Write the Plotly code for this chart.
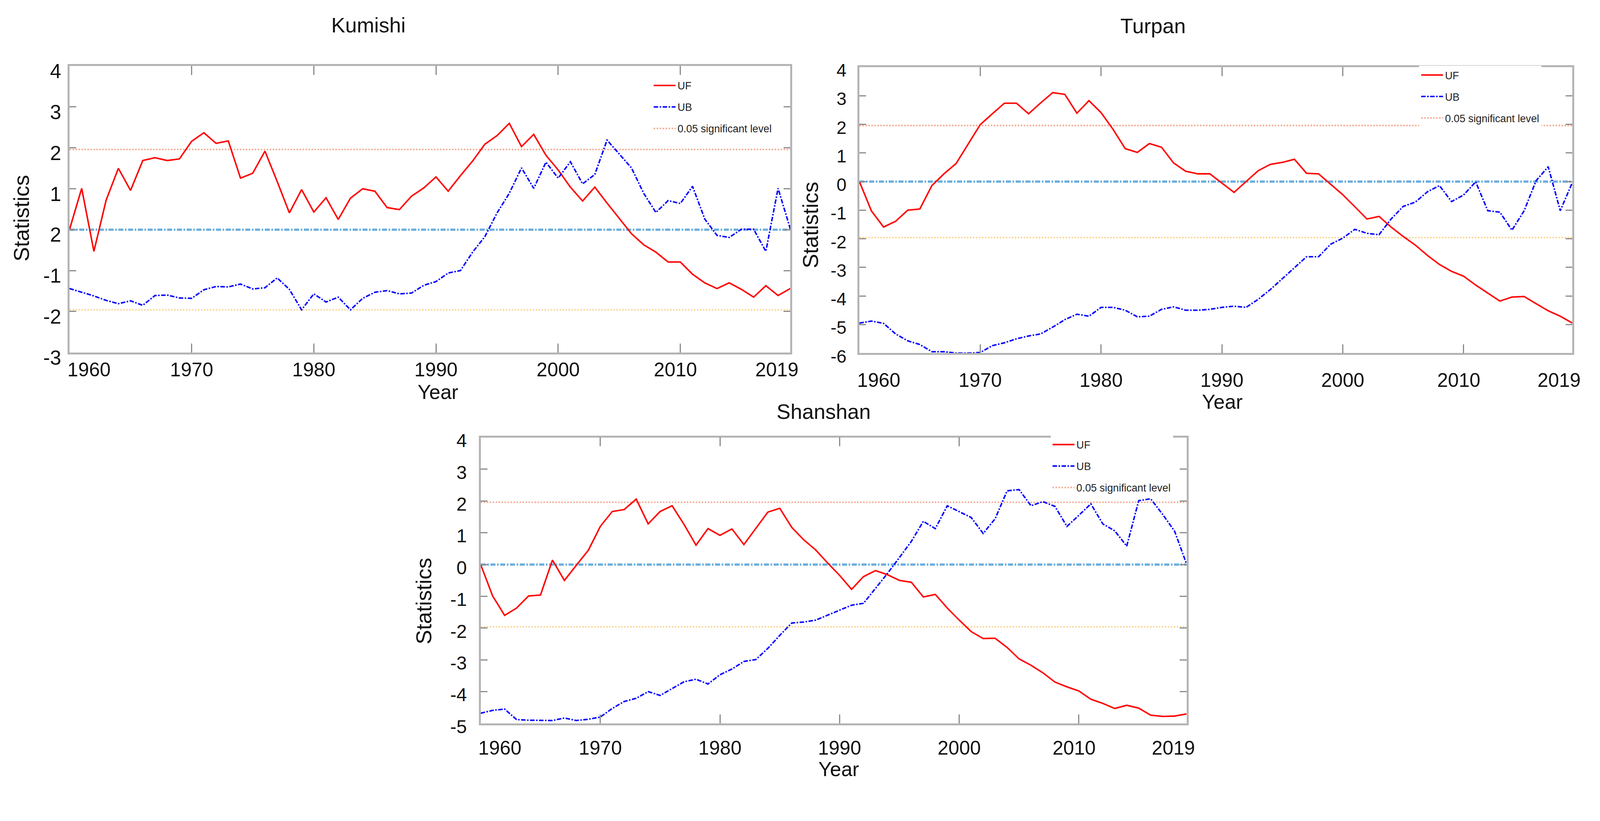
import plotly.graph_objects as go

# target picture size in px
W, H = 4284, 2103
# the page is shown magnified (about 4096 css px fill the 4284 px picture)
# and the body has an 8 px margin, so sizes and spots are scaled back here
S = 4096 / W
BODY = 8
FW, FH = round(W * S) - BODY, round(H * S) - BODY


def px(v):
    return v * S


def fx(v):
    return (v * S - BODY) / FW


def fy(v):
    return 1 - (v * S - BODY) / FH


YEARS = list(range(1960, 2020))
X_TICKS = [1970, 1980, 1990, 2000, 2010]
X_LABEL_POS = [1961.6, 1970, 1980, 1990, 2000, 2009.6, 2017.9]
X_LABEL_TEXT = ["1960", "1970", "1980", "1990", "2000", "2010", "2019"]
SIG = 1.96

KUMISHI_UF = [0.00, 1.01, -0.53, 0.72, 1.50, 0.96, 1.69, 1.76, 1.69, 1.73,
              2.16, 2.37, 2.11, 2.17, 1.26, 1.38, 1.92, 1.18, 0.41, 0.98,
              0.43, 0.78, 0.25, 0.77, 1.00, 0.94, 0.54, 0.49, 0.82, 1.02,
              1.29, 0.94, 1.32, 1.68, 2.09, 2.30, 2.60, 2.03, 2.33, 1.82,
              1.46, 1.04, 0.70, 1.04, 0.65, 0.27, -0.10, -0.37, -0.55, -0.79,
              -0.79, -1.09, -1.30, -1.44, -1.30, -1.46, -1.65, -1.37, -1.61, -1.44]
KUMISHI_UB = [-1.44, -1.53, -1.62, -1.73, -1.81, -1.74, -1.85, -1.61, -1.60, -1.67,
              -1.68, -1.47, -1.39, -1.40, -1.33, -1.45, -1.42, -1.18, -1.46, -1.96,
              -1.57, -1.77, -1.65, -1.96, -1.68, -1.53, -1.49, -1.57, -1.55, -1.36,
              -1.27, -1.06, -1.00, -0.55, -0.17, 0.41, 0.89, 1.51, 1.01, 1.65,
              1.26, 1.66, 1.12, 1.35, 2.19, 1.85, 1.51, 0.89, 0.42, 0.71,
              0.64, 1.06, 0.26, -0.14, -0.19, 0.01, 0.01, -0.53, 1.01, 0.02]

TURPAN_UF = [0.00, -1.03, -1.59, -1.39, -1.00, -0.96, -0.14, 0.27, 0.63, 1.31,
             1.99, 2.37, 2.74, 2.74, 2.37, 2.75, 3.11, 3.05, 2.39, 2.83,
             2.41, 1.82, 1.15, 1.02, 1.33, 1.20, 0.65, 0.36, 0.27, 0.27,
             -0.05, -0.38, 0.00, 0.38, 0.60, 0.67, 0.78, 0.29, 0.27, -0.10,
             -0.46, -0.88, -1.31, -1.22, -1.59, -1.92, -2.22, -2.58, -2.90, -3.14,
             -3.31, -3.62, -3.90, -4.18, -4.04, -4.02, -4.27, -4.52, -4.71, -4.95]
TURPAN_UB = [-4.95, -4.88, -4.96, -5.33, -5.57, -5.70, -5.95, -5.95, -6.00, -6.00,
             -5.98, -5.74, -5.64, -5.50, -5.40, -5.33, -5.09, -4.83, -4.64, -4.71,
             -4.40, -4.40, -4.50, -4.73, -4.71, -4.47, -4.38, -4.50, -4.50, -4.47,
             -4.40, -4.36, -4.40, -4.12, -3.78, -3.40, -3.02, -2.63, -2.63, -2.19,
             -1.98, -1.67, -1.81, -1.86, -1.31, -0.87, -0.72, -0.36, -0.14, -0.70,
             -0.47, -0.01, -1.02, -1.07, -1.70, -1.03, 0.03, 0.52, -1.02, -0.03]

SHANSHAN_UF = [0.00, -0.99, -1.60, -1.37, -0.99, -0.96, 0.14, -0.50, -0.02, 0.45,
               1.20, 1.67, 1.73, 2.06, 1.28, 1.67, 1.85, 1.26, 0.61, 1.13,
               0.92, 1.12, 0.63, 1.14, 1.65, 1.77, 1.17, 0.78, 0.46, 0.05,
               -0.34, -0.78, -0.38, -0.19, -0.32, -0.50, -0.56, -1.02, -0.94, -1.37,
               -1.75, -2.11, -2.33, -2.32, -2.61, -2.97, -3.17, -3.41, -3.70, -3.85,
               -3.98, -4.24, -4.37, -4.53, -4.43, -4.52, -4.74, -4.78, -4.77, -4.70]
SHANSHAN_UB = [-4.68, -4.59, -4.55, -4.88, -4.90, -4.90, -4.91, -4.83, -4.91, -4.87,
               -4.80, -4.53, -4.31, -4.21, -4.00, -4.12, -3.91, -3.69, -3.61, -3.76,
               -3.47, -3.29, -3.05, -2.99, -2.64, -2.23, -1.84, -1.81, -1.75, -1.59,
               -1.43, -1.28, -1.22, -0.75, -0.28, 0.22, 0.73, 1.36, 1.13, 1.85,
               1.67, 1.48, 0.98, 1.44, 2.32, 2.36, 1.85, 1.98, 1.83, 1.20,
               1.55, 1.91, 1.28, 1.06, 0.58, 2.01, 2.07, 1.58, 1.05, 0.02]

# y tick labels (the Kumishi panel labels its zero line "2")
KUMISHI_YTICKS = [4, 3, 2, 1, 0, -1, -2, -3]
KUMISHI_YTEXT = ["4", "3", "2", "1", "2", "-1", "-2", "-3"]
TURPAN_YTICKS = [4, 3, 2, 1, 0, -1, -2, -3, -4, -5, -6]
SHANSHAN_YTICKS = [4, 3, 2, 1, 0, -1, -2, -3, -4, -5]

FONT = "Liberation Sans, Arial, sans-serif"
AX_GRAY = "#b4b4b4"
TICK_GRAY = "#8c8c8c"

# pixel boxes (left, top, right, bottom) and text spots
panels = [
    dict(name="Kumishi", uf=KUMISHI_UF, ub=KUMISHI_UB, yr=[-3, 4],
         yt=KUMISHI_YTICKS, ytext=KUMISHI_YTEXT,
         box=(186, 177, 2116, 944), yfont=54, xfont=52,
         xstand=12, ystand=6, yshift=14,
         title=(986, 67), year=(1172, 1050), stat=(58, 584), leg=(1745, 204)),
    dict(name="Turpan", uf=TURPAN_UF, ub=TURPAN_UB, yr=[-6, 4],
         yt=TURPAN_YTICKS, ytext=[str(v) for v in TURPAN_YTICKS],
         box=(2301, 180, 4210, 946), yfont=48, xfont=52,
         xstand=38, ystand=20, yshift=8,
         title=(3087, 70), year=(3273, 1076), stat=(2170, 603), leg=(3800, 176)),
    dict(name="Shanshan", uf=SHANSHAN_UF, ub=SHANSHAN_UB, yr=[-5, 4],
         yt=SHANSHAN_YTICKS, ytext=[str(v) for v in SHANSHAN_YTICKS],
         box=(1287, 1172, 3177, 1938), yfont=50, xfont=52,
         xstand=30, ystand=22, yshift=8,
         title=(2205, 1103), year=(2246, 2060), stat=(1135, 1610), leg=(2813, 1166)),
]

fig = go.Figure()
annotations = []

for i, p in enumerate(panels, start=1):
    xa = "x" if i == 1 else f"x{i}"
    ya = "y" if i == 1 else f"y{i}"
    xkey = "xaxis" if i == 1 else f"xaxis{i}"
    ykey = "yaxis" if i == 1 else f"yaxis{i}"
    lab = f"x{i + 3}"
    leg = "legend" if i == 1 else f"legend{i}"
    ends = [YEARS[0], YEARS[-1]]

    # reference lines
    fig.add_trace(go.Scatter(x=ends, y=[0, 0], mode="lines", xaxis=xa, yaxis=ya,
                             line=dict(color="#6aaede", width=px(6), dash="13px,4px,4px,4px"),
                             showlegend=False, hoverinfo="skip"))
    fig.add_trace(go.Scatter(x=ends, y=[-SIG, -SIG], mode="lines", xaxis=xa, yaxis=ya,
                             line=dict(color="#f8d491", width=px(4), dash="dot"),
                             showlegend=False, hoverinfo="skip"))
    fig.add_trace(go.Scatter(x=ends, y=[SIG, SIG], mode="lines", xaxis=xa, yaxis=ya,
                             name="0.05 significant level", legend=leg, legendrank=3,
                             legendgroup=f"s{i}",
                             line=dict(color="#f3a98f", width=px(4), dash="dot")))
    # UF / UB
    fig.add_trace(go.Scatter(x=YEARS, y=p["uf"], mode="lines", xaxis=xa, yaxis=ya,
                             name="UF", legend=leg, legendrank=1, legendgroup=f"f{i}",
                             line=dict(color="#ff0000", width=px(4))))
    fig.add_trace(go.Scatter(x=YEARS, y=p["ub"], mode="lines", xaxis=xa, yaxis=ya,
                             name="UB", legend=leg, legendrank=2, legendgroup=f"b{i}",
                             line=dict(color="#0000ff", width=px(4), dash="dashdot")))
    # empty trace so the label axis gets drawn
    fig.add_trace(go.Scatter(x=[], y=[], xaxis=lab, yaxis=ya, showlegend=False,
                             hoverinfo="skip"))

    l, t, r, b = p["box"]
    fig.layout[xkey] = dict(
        domain=[fx(l), fx(r)], anchor=ya, range=[YEARS[0], YEARS[-1]],
        tickvals=X_TICKS, ticks="inside", ticklen=px(24), tickwidth=px(3),
        tickcolor=TICK_GRAY, showticklabels=False, showline=True,
        linewidth=px(5), linecolor=AX_GRAY,
        mirror="ticks", showgrid=False, zeroline=False)
    fig.layout[f"xaxis{i + 3}"] = dict(
        overlaying=xa, anchor=ya, side="bottom", range=[YEARS[0], YEARS[-1]],
        tickvals=X_LABEL_POS, ticktext=X_LABEL_TEXT, ticks="",
        showline=False, showgrid=False, zeroline=False,
        ticklabelstandoff=round(px(p["xstand"])),
        tickfont=dict(family=FONT, size=px(p["xfont"]), color="#111"))
    fig.layout[ykey] = dict(
        domain=[fy(b), fy(t)], anchor=xa, range=p["yr"],
        tickvals=p["yt"], ticktext=p["ytext"], ticks="inside", ticklen=px(18),
        tickwidth=px(3), tickcolor=TICK_GRAY, showline=True, linewidth=px(5),
        linecolor=AX_GRAY, mirror="ticks", showgrid=False, zeroline=False,
        ticklabelshift=round(px(p["yshift"])), ticklabelstandoff=round(px(p["ystand"])),
        tickfont=dict(family=FONT, size=px(p["yfont"]), color="#111"))

    fig.layout[leg] = dict(
        x=fx(p["leg"][0]), y=fy(p["leg"][1]), xanchor="left", yanchor="top",
        bgcolor="white", borderwidth=0, tracegroupgap=px(18), itemwidth=56,
        font=dict(family=FONT, size=px(28), color="#222"))

    annotations += [
        dict(text=p["name"], x=fx(p["title"][0]), y=fy(p["title"][1]),
             font=dict(family=FONT, size=px(56), color="#111")),
        dict(text="Year", x=fx(p["year"][0]), y=fy(p["year"][1]),
             font=dict(family=FONT, size=px(54), color="#111")),
        dict(text="Statistics", x=fx(p["stat"][0]), y=fy(p["stat"][1]),
             textangle=-90, font=dict(family=FONT, size=px(58), color="#111")),
    ]

for a in annotations:
    a.update(xref="paper", yref="paper", xanchor="center", yanchor="middle",
             showarrow=False)

fig.update_layout(
    width=FW, height=FH, autosize=False,
    margin=dict(l=0, r=0, t=0, b=0, pad=0, autoexpand=False),
    paper_bgcolor="white", plot_bgcolor="white",
    annotations=annotations,
)

fig.write_html("out.html")
